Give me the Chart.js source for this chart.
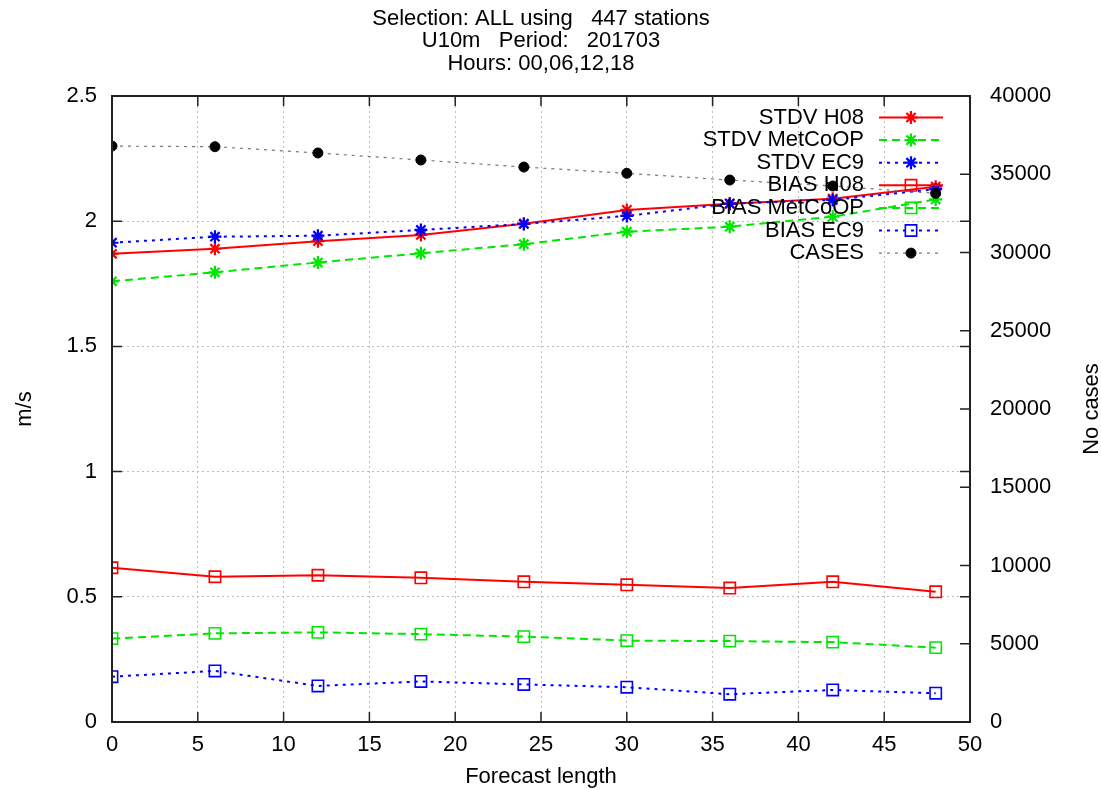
<!DOCTYPE html>
<html>
<head>
<meta charset="utf-8">
<title>U10m verification 201703</title>
<script src="https://cdn.jsdelivr.net/npm/chart.js@4.4.1/dist/chart.umd.min.js"></script>
<style>
  html, body { margin: 0; padding: 0; background: #fff; }
  #wrap { width: 1101px; height: 790px; }
</style>
</head>
<body>
<div id="wrap"><canvas id="verifChart" width="1101" height="790"></canvas></div>
<script>
// forecast lengths (hours)
const forecastHours = [0, 6, 12, 18, 24, 30, 36, 42, 48];

// m/s, left axis
const stdvH08     = [1.870, 1.890, 1.920, 1.945, 1.990, 2.045, 2.070, 2.090, 2.138];
const stdvMetCoOP = [1.760, 1.796, 1.835, 1.872, 1.908, 1.958, 1.978, 2.018, 2.087];
const stdvEC9     = [1.914, 1.938, 1.942, 1.965, 1.989, 2.021, 2.070, 2.085, 2.128];
const biasH08     = [0.616, 0.580, 0.586, 0.576, 0.560, 0.548, 0.535, 0.560, 0.520];
const biasMetCoOP = [0.333, 0.354, 0.358, 0.351, 0.341, 0.325, 0.323, 0.319, 0.297];
const biasEC9     = [0.181, 0.204, 0.144, 0.162, 0.150, 0.139, 0.111, 0.128, 0.115];

// number of cases, right axis
const cases = [36800, 36760, 36360, 35910, 35460, 35060, 34630, 34250, 33780];

const titleLines = ['Selection: ALL using   447 stations', 'U10m   Period:   201703', 'Hours: 00,06,12,18'];
const xAxisTitle = 'Forecast length';
const yAxisTitle = 'm/s';
const y2AxisTitle = 'No cases';

const FONT = '"Liberation Sans", Arial, Helvetica, sans-serif';
const RED = '#ff0000';
const GREEN = '#00e600';
const BLUE = '#0000ff';
const TICK_LEN = 10;

const toPoints = vals => forecastHours.map((h, i) => ({ x: h, y: vals[i] }));

function series(label, vals, color, dash, style, order, axis) {
  const isRect = style === 'rect';
  return {
    label: label,
    data: toPoints(vals),
    yAxisID: axis || 'y',
    borderColor: color,
    borderWidth: 2,
    borderDash: dash,
    pointStyle: style,
    pointRadius: isRect ? 8 : 6.5,
    pointHoverRadius: isRect ? 8 : 6.5,
    pointBorderColor: color,
    pointBackgroundColor: 'rgba(0,0,0,0)',
    pointBorderWidth: isRect ? 1.6 : 2.2,
    tension: 0,
    order: order
  };
}

const datasets = [
  series('STDV H08', stdvH08, RED, [], 'star', 7),
  series('STDV MetCoOP', stdvMetCoOP, GREEN, [8, 5], 'star', 6),
  series('STDV EC9', stdvEC9, BLUE, [3, 5], 'star', 5),
  series('BIAS H08', biasH08, RED, [], 'rect', 4),
  series('BIAS MetCoOP', biasMetCoOP, GREEN, [8, 5], 'rect', 3),
  series('BIAS EC9', biasEC9, BLUE, [3, 5], 'rect', 2),
  {
    label: 'CASES',
    data: toPoints(cases),
    yAxisID: 'y2',
    borderColor: '#777',
    borderWidth: 1.2,
    borderDash: [3, 5],
    pointStyle: 'circle',
    pointRadius: 5,
    pointHoverRadius: 5,
    pointBorderColor: '#000',
    pointBackgroundColor: '#000',
    pointBorderWidth: 1,
    order: 1
  }
];

// frame, inward ticks, legend and titles drawn like gnuplot does
const gnuplotDecor = {
  id: 'gnuplotDecor',
  afterDatasetsDraw(chart) {
    const { ctx, chartArea: a, scales } = chart;
    ctx.save();
    ctx.setLineDash([]);
    ctx.strokeStyle = '#222';
    ctx.lineWidth = 1.5;
    ctx.beginPath();
    scales.x.ticks.forEach(t => {
      const px = scales.x.getPixelForValue(t.value);
      ctx.moveTo(px, a.bottom); ctx.lineTo(px, a.bottom - TICK_LEN);
      ctx.moveTo(px, a.top); ctx.lineTo(px, a.top + TICK_LEN);
    });
    scales.y.ticks.forEach(t => {
      const py = scales.y.getPixelForValue(t.value);
      ctx.moveTo(a.left, py); ctx.lineTo(a.left + TICK_LEN, py);
      ctx.moveTo(a.right, py); ctx.lineTo(a.right - TICK_LEN, py);
    });
    scales.y2.ticks.forEach(t => {
      const py = scales.y2.getPixelForValue(t.value);
      ctx.moveTo(a.right, py); ctx.lineTo(a.right - TICK_LEN, py);
    });
    ctx.stroke();
    ctx.lineWidth = 2;
    ctx.strokeRect(a.left, a.top, a.right - a.left, a.bottom - a.top);

    // key
    const textRight = 864, lineFrom = 879, lineTo = 943, markX = 911;
    let rowY = 117.5;
    ctx.font = '22px ' + FONT;
    ctx.textAlign = 'right';
    ctx.textBaseline = 'middle';
    chart.data.datasets.forEach(ds => {
      ctx.fillStyle = '#000';
      ctx.fillText(ds.label, textRight, rowY);
      ctx.strokeStyle = ds.borderColor;
      ctx.lineWidth = ds.borderWidth;
      ctx.setLineDash(ds.borderDash || []);
      ctx.beginPath();
      ctx.moveTo(lineFrom, rowY); ctx.lineTo(lineTo, rowY);
      ctx.stroke();
      ctx.setLineDash([]);
      ctx.strokeStyle = ds.pointBorderColor;
      ctx.fillStyle = ds.pointBackgroundColor;
      ctx.lineWidth = ds.pointBorderWidth;
      Chart.helpers.drawPoint(ctx, {
        pointStyle: ds.pointStyle, radius: ds.pointRadius,
        borderWidth: ds.pointBorderWidth, rotation: 0
      }, markX, rowY);
      rowY += 22.6;
    });
    ctx.restore();
  },
  afterDraw(chart) {
    const { ctx, chartArea: a } = chart;
    const midX = (a.left + a.right) / 2;
    const midY = (a.top + a.bottom) / 2;
    ctx.save();
    ctx.fillStyle = '#000';
    ctx.font = '22px ' + FONT;
    ctx.textAlign = 'center';
    ctx.textBaseline = 'middle';
    titleLines.forEach((line, i) => ctx.fillText(line, midX, 18.5 + i * 22.5));
    ctx.fillText(xAxisTitle, midX, 777);
    ctx.translate(25, midY);
    ctx.rotate(-Math.PI / 2);
    ctx.fillText(yAxisTitle, 0, 0);
    ctx.restore();
    ctx.save();
    ctx.fillStyle = '#000';
    ctx.font = '22px ' + FONT;
    ctx.textAlign = 'center';
    ctx.textBaseline = 'middle';
    ctx.translate(1092, midY);
    ctx.rotate(-Math.PI / 2);
    ctx.fillText(y2AxisTitle, 0, 0);
    ctx.restore();
  }
};

const tickFont = { family: FONT, size: 22 };
const gridColor = ctx => (ctx.tick && ctx.tick.value > 0 && ctx.tick.value < ctx.scale.max) ? '#bdbdbd' : 'rgba(0,0,0,0)';

new Chart(document.getElementById('verifChart'), {
  type: 'line',
  data: { datasets: datasets },
  options: {
    responsive: false,
    animation: false,
    events: [],
    layout: { padding: { top: 96, left: 0, right: 0, bottom: 0 } },
    plugins: {
      legend: { display: false },
      title: { display: false },
      tooltip: { enabled: false }
    },
    scales: {
      x: {
        type: 'linear',
        min: 0,
        max: 50,
        ticks: { stepSize: 5, color: '#000', font: tickFont, padding: 10, maxRotation: 0 },
        grid: { color: gridColor, drawTicks: false, lineWidth: 1 },
        border: { display: false, dash: [2, 3] },
        afterFit: s => { s.height = 68; }
      },
      y: {
        position: 'left',
        min: 0,
        max: 2.5,
        ticks: { stepSize: 0.5, color: '#000', font: tickFont, padding: 15, callback: v => String(Math.round(v * 10) / 10) },
        grid: { color: gridColor, drawTicks: false, lineWidth: 1 },
        border: { display: false, dash: [2, 3] },
        afterFit: s => { s.width = 112; }
      },
      y2: {
        position: 'right',
        min: 0,
        max: 40000,
        ticks: { stepSize: 5000, color: '#000', font: tickFont, padding: 20, callback: v => String(v) },
        grid: { display: false, drawTicks: false },
        border: { display: false },
        afterFit: s => { s.width = 131; }
      }
    }
  },
  plugins: [gnuplotDecor]
});
</script>
</body>
</html>
